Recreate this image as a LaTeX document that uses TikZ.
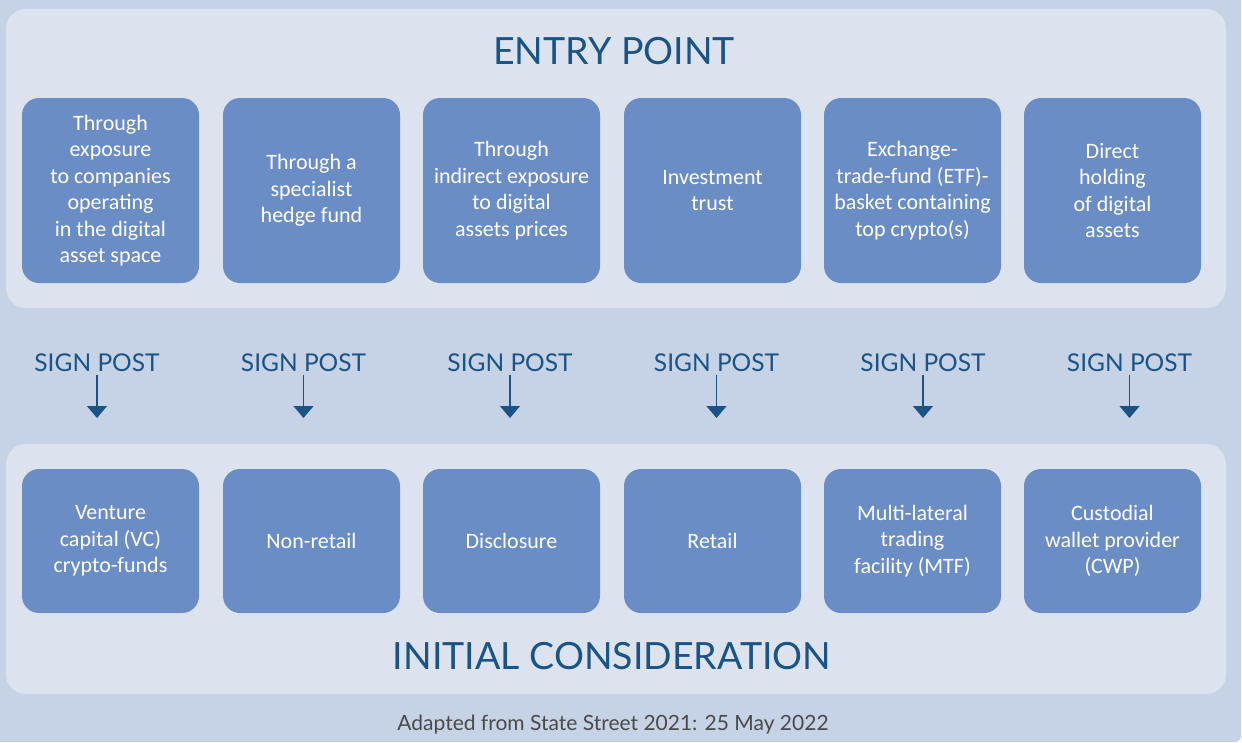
\documentclass[tikz,border=0pt]{standalone}
\usepackage{fontspec}
\setmainfont{Carlito}
\newfontfamily\headfont{Lato}
\usetikzlibrary{arrows.meta,positioning}
\definecolor{bgblue}{HTML}{C6D3E6}
\definecolor{panelblue}{HTML}{DCE3EF}
\definecolor{boxblue}{HTML}{6A8DC6}
\definecolor{headblue}{HTML}{1A5486}
\definecolor{notegrey}{HTML}{4A4A4A}
\tikzset{
  optbox/.style={fill=boxblue, rounded corners=17pt, text=white, align=center,
    minimum width=177pt, inner sep=0pt, font=\fontsize{22}{26.5}\selectfont},
  topbox/.style={optbox, minimum height=185pt},
  lowbox/.style={optbox, minimum height=144pt},
  signpost/.style={text=headblue, font=\headfont\fontsize{24.5}{28}\selectfont, inner sep=3pt},
  heading/.style={text=headblue, font=\headfont\fontsize{37.5}{44}\selectfont},
  postarrow/.style={draw=headblue, line width=1.4pt, -{Triangle[width=20pt,length=12pt]}}
}

\begin{document}
\begin{tikzpicture}[x=1pt, y=-1pt]
    \useasboundingbox (0, 0) rectangle (1242, 742);
    % background and the two panels
    \fill[white] (0, 0) rectangle (1242, 742);
    \fill[bgblue, rounded corners=6pt] (-10, -10) -- (1241, -10) -- (1241, 742) -- (-10, 742) -- cycle;
    \fill[panelblue, rounded corners=20pt] (6, 9) rectangle (1226, 308);
    \fill[panelblue, rounded corners=20pt] (6, 444) rectangle (1226, 694);

    \node[heading] (entry) at (614, 51) {ENTRY POINT};
    \node[heading] (initial) at (612, 656) {INITIAL CONSIDERATION};

    % entry points
    \node[topbox] (e1) at (110.5, 190.5) {Through\\exposure\\to companies\\operating\\in the digital\\asset space};
    \node[topbox] (e2) at (311.5, 190.5) {Through a\\specialist\\hedge fund};
    \node[topbox] (e3) at (511.5, 190.5) {Through\\indirect exposure\\to digital\\assets prices};
    \node[topbox] (e4) at (712.5, 190.5) {Investment\\trust};
    \node[topbox] (e5) at (912.5, 190.5) {Exchange-\\trade-fund (ETF)-\\basket containing\\top crypto(s)};
    \node[topbox] (e6) at (1112.5, 190.5) {Direct\\holding\\of digital\\assets};

    % sign posts
    \node[signpost] (s1) at (97, 363) {SIGN POST};
    \node[signpost] (s2) at (303.5, 363) {SIGN POST};
    \node[signpost] (s3) at (510, 363) {SIGN POST};
    \node[signpost] (s4) at (716.5, 363) {SIGN POST};
    \node[signpost] (s5) at (923, 363) {SIGN POST};
    \node[signpost] (s6) at (1129.5, 363) {SIGN POST};
    \coordinate (t1) at (97, 418);
    \coordinate (t2) at (303.5, 418);
    \coordinate (t3) at (510, 418);
    \coordinate (t4) at (716.5, 418);
    \coordinate (t5) at (923, 418);
    \coordinate (t6) at (1129.5, 418);
    \draw[postarrow] (s1.south) -- (t1);
    \draw[postarrow] (s2.south) -- (t2);
    \draw[postarrow] (s3.south) -- (t3);
    \draw[postarrow] (s4.south) -- (t4);
    \draw[postarrow] (s5.south) -- (t5);
    \draw[postarrow] (s6.south) -- (t6);

    % initial considerations
    \node[lowbox] (c1) at (110.5, 541) {Venture\\capital (VC)\\crypto-funds};
    \node[lowbox] (c2) at (311.5, 541) {Non-retail};
    \node[lowbox] (c3) at (511.5, 541) {Disclosure};
    \node[lowbox] (c4) at (712.5, 541) {Retail};
    \node[lowbox] (c5) at (912.5, 541) {Multi-lateral\\trading\\facility (MTF)};
    \node[lowbox] (c6) at (1112.5, 541) {Custodial\\wallet provider\\(CWP)};

    \node[text=notegrey, font=\headfont\fontsize{21}{24}\selectfont] (note) at (613, 725) {Adapted from State Street 2021: 25 May 2022};
\end{tikzpicture}
\end{document}
